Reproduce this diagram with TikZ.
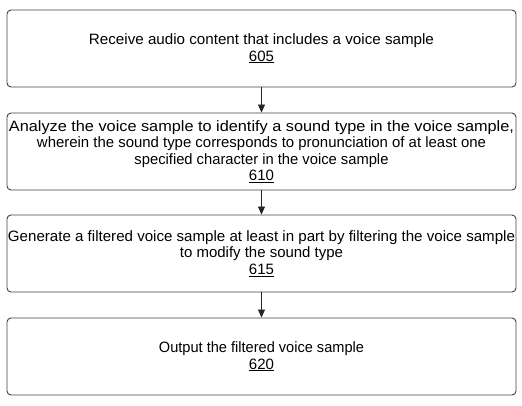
\documentclass[tikz,border=0pt]{standalone}
\usepackage{graphicx}
\usepackage{fontspec}
\setmainfont{Liberation Sans}
\usetikzlibrary{arrows.meta}
\newcommand{\fitline}[2]{\resizebox{#1}{\height}{#2}}
\tikzstyle{arrow} = [line width=0.8pt,-{Triangle[width=7pt,length=8pt]},color=black!85]
\tikzstyle{stepbox} = [rectangle, rounded corners=4pt, minimum width=509pt, minimum height=77pt, text centered, align=center, draw=black!75, line width=0.9pt, inner sep=0pt, font=\fontsize{15}{16.3}\selectfont]

\begin{document}
\begin{tikzpicture}[x=1pt,y=1pt]
\useasboundingbox (0,0) rectangle (522,-405);
% Steps
\node[stepbox] (receive) at (261.5,-48.5) {\fitline{345pt}{Receive audio content that includes a voice sample}\\ \underline{605}};
\node[stepbox] (analyze) at (261.5,-151.5) {\fitline{505pt}{Analyze the voice sample to identify a sound type in the voice sample,}\\ \fitline{449pt}{wherein the sound type corresponds to pronunciation of at least one}\\ \fitline{254pt}{specified character in the voice sample}\\ \underline{610}};
\node[stepbox] (filter) at (261.5,-253.5) {\makebox[0pt]{\fitline{507pt}{Generate a filtered voice sample at least in part by filtering the voice sample}}\\ \fitline{163pt}{to modify the sound type}\\ \underline{615}};
\node[stepbox] (output) at (261.5,-356.5) {\fitline{205pt}{Output the filtered voice sample}\\ \underline{620}};

% Connections
\draw[arrow] (receive) -- (analyze);
\draw[arrow] (analyze) -- (filter);
\draw[arrow] (filter) -- (output);
\end{tikzpicture}
\end{document}
